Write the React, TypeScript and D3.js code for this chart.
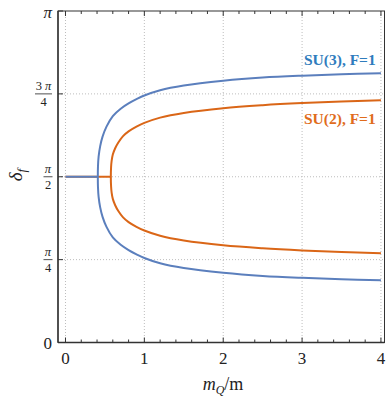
import React from "react";
import * as d3 from "d3";

const PI = Math.PI;

// bifurcation points (m_Q/m where the two branches split off pi/2)
const su3Split = 0.41;
const su2Split = 0.575;

// SU(3), F=1 branches (blue)
const su3X = [0.412, 0.42, 0.44, 0.47, 0.52, 0.6, 0.7, 0.8, 0.9, 1.0, 1.2, 1.5, 2.0, 2.5, 3.0, 3.5, 4.0];
const su3Upper = [1.671, 1.761, 1.861, 1.951, 2.046, 2.146, 2.216, 2.266, 2.306, 2.341, 2.391, 2.436, 2.481, 2.511, 2.529, 2.542, 2.552];
const su3Lower = [1.471, 1.381, 1.281, 1.191, 1.096, 0.996, 0.926, 0.876, 0.836, 0.801, 0.751, 0.706, 0.661, 0.631, 0.613, 0.6, 0.59];

// SU(2), F=1 branches (orange)
const su2X = [0.578, 0.585, 0.6, 0.63, 0.67, 0.73, 0.8, 0.9, 1.0, 1.2, 1.5, 2.0, 2.5, 3.0, 3.5, 4.0];
const su2Upper = [1.661, 1.721, 1.781, 1.841, 1.896, 1.956, 2.001, 2.046, 2.081, 2.131, 2.176, 2.221, 2.249, 2.269, 2.284, 2.296];
const su2Lower = [1.481, 1.421, 1.361, 1.301, 1.246, 1.186, 1.141, 1.096, 1.061, 1.011, 0.966, 0.921, 0.893, 0.873, 0.858, 0.846];

const xTicks = [0, 1, 2, 3, 4];
const xMinorTicks = d3.range(0, 4.01, 0.2);
const yTicks = [0, PI / 4, PI / 2, (3 * PI) / 4, PI];
const yTickNum = ["0", "π", "π", "3 π", "π"];
const yTickDen = ["", "4", "2", "4", ""];

const seriesNames = ["SU(3), F=1", "SU(2), F=1"];

const W = 390;
const H = 401;
const left = 58, right = 384.5, top = 11, bottom = 342.5;

const blueLine = "#5b7fbd";
const orangeLine = "#da6617";
const blueText = "#2f7cbd";
const orangeText = "#e06c1c";
const serif = "'Liberation Serif', 'DejaVu Serif', serif";

function branchPath(splitX: number, xs: number[], up: number[], lo: number[], x: any, y: any) {
  const pts: [number, number][] = [];
  for (let i = xs.length - 1; i >= 0; i--) pts.push([xs[i], up[i]]);
  pts.push([splitX, PI / 2]);
  for (let i = 0; i < xs.length; i++) pts.push([xs[i], lo[i]]);
  const gen = d3.line<[number, number]>()
    .x(d => x(d[0]))
    .y(d => y(d[1]))
    .curve(d3.curveCatmullRom.alpha(0.5));
  return gen(pts) || "";
}

export default function App() {
  const x = d3.scaleLinear().domain([-0.095, 4.045]).range([left, right]);
  const y = d3.scaleLinear().domain([0, PI]).range([bottom, top]);
  const flat = d3.line<[number, number]>().x(d => x(d[0])).y(d => y(d[1]));

  const grid = "#bdbdbd";

  return (
    <svg width={W} height={H} style={{ position: "absolute", left: 0, top: 0, background: "#fff" }}>
      {/* grid */}
      {xTicks.map(t => (
        <line key={"gx" + t} x1={x(t)} x2={x(t)} y1={top} y2={bottom} stroke={grid} strokeWidth={1} strokeDasharray="1,2" />
      ))}
      {yTicks.slice(1, 4).map((t, i) => (
        <line key={"gy" + i} x1={left} x2={right} y1={y(t)} y2={y(t)} stroke={grid} strokeWidth={1} strokeDasharray="1,2" />
      ))}

      {/* curves: orange under blue */}
      <path d={flat([[0, PI / 2], [su2Split, PI / 2]]) || ""} fill="none" stroke={orangeLine} strokeWidth={2} />
      <path d={branchPath(su2Split, su2X, su2Upper, su2Lower, x, y)} fill="none" stroke={orangeLine} strokeWidth={2} />
      <path d={flat([[0, PI / 2], [su3Split, PI / 2]]) || ""} fill="none" stroke={blueLine} strokeWidth={2} />
      <path d={branchPath(su3Split, su3X, su3Upper, su3Lower, x, y)} fill="none" stroke={blueLine} strokeWidth={2} />

      {/* frame */}
      <rect x={left} y={top} width={right - left} height={bottom - top} fill="none" stroke="#333" strokeWidth={1} />
      <line x1={left} x2={left} y1={top} y2={bottom} stroke="#333" strokeWidth={1.4} />
      <line x1={left} x2={right} y1={bottom} y2={bottom} stroke="#333" strokeWidth={1.4} />

      {/* x ticks bottom and top */}
      {xMinorTicks.map((t, i) => {
        const major = Math.abs(t - Math.round(t)) < 1e-6;
        const len = major ? 5 : 3;
        return (
          <g key={"xt" + i}>
            <line x1={x(t)} x2={x(t)} y1={bottom} y2={bottom - len} stroke="#333" strokeWidth={1} />
            <line x1={x(t)} x2={x(t)} y1={top} y2={top + len} stroke="#333" strokeWidth={1} />
          </g>
        );
      })}
      {xTicks.map(t => (
        <text key={"xl" + t} x={x(t)} y={364} textAnchor="middle" fontFamily={serif} fontSize={17} fill="#222">{t}</text>
      ))}

      {/* y ticks */}
      {yTicks.map((t, i) => (
        <line key={"yt" + i} x1={left} x2={left + 5} y1={y(t)} y2={y(t)} stroke="#333" strokeWidth={1} />
      ))}
      {yTicks.map((t, i) => {
        const yy = y(t);
        if (!yTickDen[i]) {
          const isPi = yTickNum[i] === "π";
          return (
            <text key={"yl" + i} x={52} y={yy + 6.5} textAnchor="end" fontFamily={serif} fontSize={17}
              fontStyle={isPi ? "italic" : "normal"} fill="#222">{yTickNum[i]}</text>
          );
        }
        const wide = yTickNum[i].length > 1;
        const cx = wide ? 43.5 : 48;
        const half = wide ? 8.5 : 4.5;
        return (
          <g key={"yl" + i} fontFamily={serif} fill="#222">
            {wide ? (
              <text x={cx} y={yy - 3.5} textAnchor="middle" fontSize={12.5}>
                3<tspan dx={3} fontStyle="italic">π</tspan>
              </text>
            ) : (
              <text x={cx} y={yy - 3.5} textAnchor="middle" fontSize={12.5} fontStyle="italic">{yTickNum[i]}</text>
            )}
            <line x1={cx - half} x2={cx + half} y1={yy} y2={yy} stroke="#222" strokeWidth={0.8} />
            <text x={cx} y={yy + 12} textAnchor="middle" fontSize={12.5}>{yTickDen[i]}</text>
          </g>
        );
      })}

      {/* series labels */}
      <text x={304} y={65} fontFamily={serif} fontSize={15.5} fontWeight="bold" fill={blueText}>{seriesNames[0]}</text>
      <text x={304} y={124} fontFamily={serif} fontSize={15.5} fontWeight="bold" fill={orangeText}>{seriesNames[1]}</text>

      {/* axis titles */}
      <text x={223} y={390} textAnchor="middle" fontFamily={serif} fontSize={18} fill="#222">
        <tspan fontStyle="italic">m</tspan>
        <tspan fontStyle="italic" fontSize={12} dy={4}>Q</tspan>
        <tspan dy={-4}>/m</tspan>
      </text>
      <text transform={`translate(22,175) rotate(-90)`} textAnchor="middle" fontFamily={serif} fontSize={19} fill="#222">
        <tspan fontStyle="italic">δ</tspan>
        <tspan fontStyle="italic" fontSize={13} dy={4}>f</tspan>
      </text>
    </svg>
  );
}
